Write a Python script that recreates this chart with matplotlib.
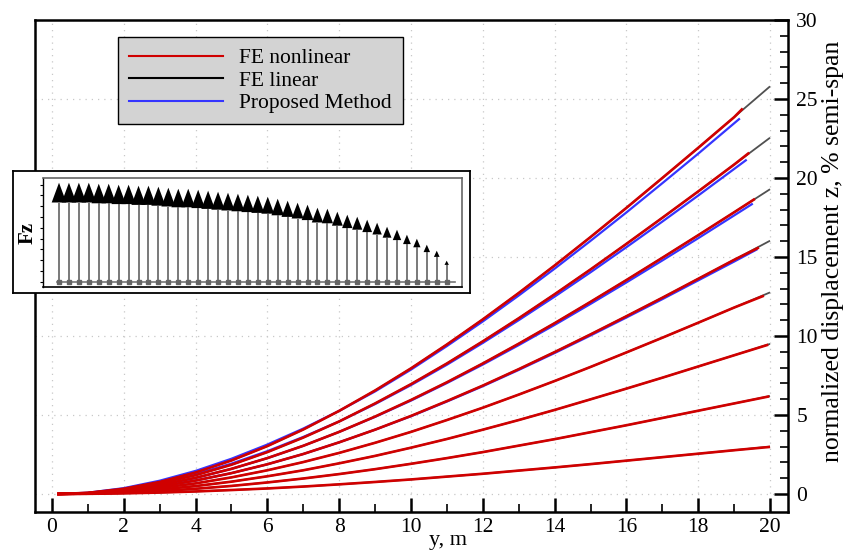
import numpy as np
import matplotlib.pyplot as plt

plt.rcParams['font.family'] = 'serif'
plt.rcParams['font.serif'] = ['Liberation Serif', 'DejaVu Serif']

# span stations, m
span = [0.15, 1, 2, 3, 4, 5, 6, 7, 8, 9, 10, 11, 12, 13, 14, 15, 16, 17, 18, 19, 20]

# FE linear, normalized z (% semi-span), one list per load level
lin1 = [0, 0.01, 0.04, 0.09, 0.16, 0.25, 0.35, 0.47, 0.61, 0.76, 0.92, 1.10, 1.28, 1.48, 1.68, 1.89, 2.11, 2.33, 2.55, 2.77, 3.0]
lin2 = [0, 0.02, 0.08, 0.18, 0.33, 0.51, 0.73, 0.98, 1.26, 1.57, 1.91, 2.27, 2.65, 3.06, 3.47, 3.91, 4.35, 4.81, 5.27, 5.73, 6.2]
lin3 = [0, 0.03, 0.12, 0.28, 0.50, 0.78, 1.12, 1.50, 1.94, 2.41, 2.93, 3.48, 4.07, 4.68, 5.32, 5.99, 6.67, 7.36, 8.07, 8.78, 9.5]
lin4 = [0, 0.03, 0.16, 0.38, 0.67, 1.05, 1.50, 2.02, 2.60, 3.24, 3.93, 4.68, 5.46, 6.29, 7.15, 8.04, 8.96, 9.89, 10.84, 11.80, 12.76]
lin5 = [0, 0.04, 0.20, 0.47, 0.85, 1.32, 1.88, 2.53, 3.27, 4.07, 4.94, 5.88, 6.86, 7.90, 8.98, 10.10, 11.25, 12.42, 13.62, 14.82, 16.03]
lin6 = [0, 0.05, 0.24, 0.57, 1.02, 1.59, 2.27, 3.05, 3.93, 4.90, 5.95, 7.07, 8.26, 9.51, 10.81, 12.16, 13.54, 14.95, 16.38, 17.83, 19.29]
lin7 = [0, 0.06, 0.28, 0.67, 1.19, 1.85, 2.65, 3.57, 4.59, 5.73, 6.95, 8.26, 9.66, 11.12, 12.64, 14.21, 15.83, 17.48, 19.15, 20.85, 22.55]
lin8 = [0, 0.07, 0.33, 0.76, 1.36, 2.12, 3.03, 4.08, 5.26, 6.55, 7.95, 9.46, 11.05, 12.72, 14.46, 16.26, 18.11, 20.00, 21.91, 23.85, 25.8]
fe_linear = [lin1, lin2, lin3, lin4, lin5, lin6, lin7, lin8]

# FE nonlinear follows the linear curve but the tip ends shorter
nl_tip_y = [20.0, 19.98, 19.95, 19.83, 19.69, 19.58, 19.42, 19.24]
nl_tip_z = [2.98, 6.18, 9.45, 12.55, 15.6, 18.68, 21.6, 24.4]

# Proposed method (only visible on the 4 highest loads)
pm5 = [0, 0.04, 0.20, 0.47, 0.85, 1.32, 1.88, 2.53, 3.27, 4.07, 4.92, 5.85, 6.82, 7.85, 8.92, 10.03, 11.17, 12.33, 13.52, 14.71]
pm6 = [0, 0.05, 0.24, 0.57, 1.02, 1.59, 2.27, 3.05, 3.93, 4.88, 5.91, 7.02, 8.19, 9.42, 10.70, 12.03, 13.39, 14.78, 16.19, 17.63]
pm7 = [0, 0.06, 0.30, 0.72, 1.26, 1.92, 2.71, 3.61, 4.59, 5.69, 6.89, 8.18, 9.56, 11.00, 12.49, 14.03, 15.62, 17.24, 18.89]
pm8 = [0, 0.08, 0.37, 0.84, 1.46, 2.23, 3.13, 4.14, 5.26, 6.49, 7.87, 9.36, 10.92, 12.56, 14.26, 16.02, 17.82, 19.67, 21.54]
pm_curves = [pm5, pm6, pm7, pm8]
pm_tip_y = [19.65, 19.52, 19.35, 19.16]
pm_tip_z = [15.5, 18.38, 21.16, 23.77]

# inset: spanwise Fz distribution (arrow lengths, relative)
fz = [99, 99, 99, 99, 98, 98, 97, 97, 96, 96, 95, 94, 93, 93, 92, 91, 90, 89, 88, 87,
      86, 85, 83, 81, 79, 77, 74, 73, 70, 67, 65, 62, 59, 55, 52, 47, 43, 37, 31, 21]

RED = '#d00000'
BLUE = '#3535ff'
GREY = '#505050'

W, H = 846, 551
fig = plt.figure(figsize=(W / 100, H / 100), dpi=100)
ax = fig.add_axes([35 / W, 39 / H, 753 / W, 492 / H])

for z in fe_linear:
    ax.plot(span, z, color=GREY, lw=1.3, solid_capstyle='butt', zorder=2)
for z, ye, ze in zip(pm_curves, pm_tip_y, pm_tip_z):
    ax.plot(span[:len(z)] + [ye], z + [ze], color=BLUE, lw=1.6,
            solid_capstyle='butt', zorder=3)
for z, ye, ze in zip(fe_linear, nl_tip_y, nl_tip_z):
    yy = [s for s in span if s < ye] + [ye]
    zz = z[:len(yy) - 1] + [ze]
    ax.plot(yy, zz, color=RED, lw=1.9, solid_capstyle='butt', zorder=4)

ax.set_xlim(-0.47, 20.5)
ax.set_ylim(-1.14, 30)
ax.set_xticks(np.arange(0, 21, 2))
ax.set_xticks(np.arange(1, 20, 2), minor=True)
ax.set_yticks(np.arange(0, 31, 5))
ax.set_yticks(np.arange(0, 31, 1), minor=True)
ax.yaxis.tick_right()
ax.tick_params(which='both', direction='in', left=False, top=False, right=True, bottom=True,
               labelsize=15.5)
ax.tick_params(which='major', length=10, width=1.8)
ax.tick_params(which='minor', length=6, width=1.2)
ax.tick_params(axis='x', pad=4)
ax.tick_params(axis='y', pad=6)
ax.grid(True, which='major', color='#c8c8c8', linestyle=(0, (1, 4)), lw=0.9)
for sp in ax.spines.values():
    sp.set_linewidth(1.8)

h1, = ax.plot([], [], color=RED, lw=1.5)
h2, = ax.plot([], [], color='black', lw=1.5)
h3, = ax.plot([], [], color=BLUE, lw=1.5)
leg = ax.legend([h1, h2, h3], ['FE nonlinear', 'FE linear', 'Proposed Method'],
                loc='upper left', bbox_to_anchor=(0.11, 0.965), borderaxespad=0,
                fontsize=15.5, handlelength=4.4, handletextpad=0.75, labelspacing=0.12,
                borderpad=0.5, fancybox=False, framealpha=1,
                facecolor='#d3d3d3', edgecolor='black')
leg.get_frame().set_linewidth(1.0)

fig.text(833 / W, 1 - 251 / H, 'normalized displacement z, % semi-span', rotation=90,
         ha='center', va='center', fontsize=18.5)
fig.text(448 / W, 1 - 550 / H, 'y, m', ha='center', va='bottom', fontsize=16)

# inset box
box = fig.add_axes([12.7 / W, 1 - 293 / H, (470 - 12.7) / W, (293 - 171) / H], zorder=5)
box.set_facecolor('white')
box.set_xticks([])
box.set_yticks([])
for sp in box.spines.values():
    sp.set_linewidth(1.3)

ins = fig.add_axes([43.3 / W, 1 - 286.7 / H, (461.7 - 43.3) / W, (286.7 - 178.3) / H], zorder=6)
ins.set_xlim(-0.58, 41.51)
ins.set_ylim(-5, 103.4)
xs = np.arange(1, len(fz) + 1)
ins.plot([0.8, 40.85], [0, 0], color='#777777', lw=1.2)
for x, f in zip(xs, fz):
    hl = 0.2 * f
    hw = (0.066 * f + 0.8) / 9.94
    ins.vlines(x, 0, f - hl, color='#555555', lw=1.1)
    ins.fill([x - hw, x + hw, x], [f - hl, f - hl, f], color='black', lw=0)
ins.plot(xs, np.zeros(len(xs)), 's', color='#666666', ms=2.6)
ins.set_xticks([])
ins.set_yticks(np.arange(0, 100, 10.8))
ins.tick_params(axis='y', length=2, width=0.8, labelleft=False)
ins.spines['left'].set_linewidth(1.0)
ins.spines['bottom'].set_linewidth(1.2)
for s in ('top', 'right'):
    ins.spines[s].set_color('#666666')
    ins.spines[s].set_linewidth(1.2)

fig.text(28 / W, 1 - 233 / H, 'Fz', rotation=90, ha='center', va='center',
         fontsize=15, fontweight='bold', zorder=10)

fig.savefig('out.png', dpi=100)
